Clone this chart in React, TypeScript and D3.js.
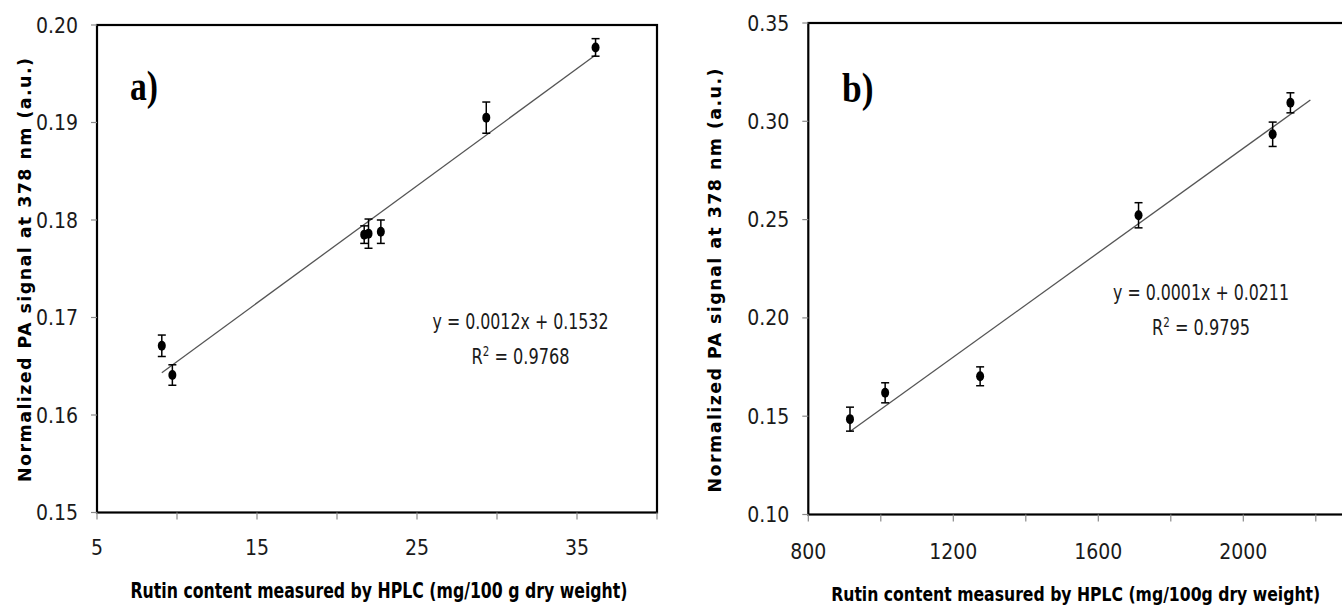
import React, { useEffect, useRef } from 'react';
import * as d3 from 'd3';

// panel a) rutin (mg/100 g) vs PA signal
const rutinA = [9.05, 9.71, 21.7, 21.97, 22.74, 29.33, 36.16];
const signalA = [0.1671, 0.1641, 0.1785, 0.1786, 0.1788, 0.1905, 0.1977];
const errorA = [0.0011, 0.00105, 0.0009, 0.0015, 0.0012, 0.0016, 0.0009];
const xTicksA = [5, 10, 15, 20, 25, 30, 35, 40];
const xLabelsA = [5, 15, 25, 35];
const yTicksA = [0.15, 0.16, 0.17, 0.18, 0.19, 0.2];
const equationA = 'y = 0.0012x + 0.1532';
const r2A = '0.9768';
const xTitleA = 'Rutin content measured by HPLC (mg/100 g dry weight)';

// panel b)
const rutinB = [915, 1012, 1274, 1711, 2081, 2130];
const signalB = [0.1485, 0.1619, 0.1703, 0.2522, 0.2934, 0.3094];
const errorB = [0.0061, 0.0051, 0.0048, 0.0064, 0.0062, 0.0051];
const xTicksB = [800, 1000, 1200, 1400, 1600, 1800, 2000, 2200, 2400];
const xLabelsB = [800, 1200, 1600, 2000];
const yTicksB = [0.1, 0.15, 0.2, 0.25, 0.3, 0.35];
const trendEndB = 2185;
const equationB = 'y = 0.0001x + 0.0211';
const r2B = '0.9795';
const xTitleB = 'Rutin content measured by HPLC (mg/100g dry weight)';

const yTitle = 'Normalized PA signal at 378 nm (a.u.)';

const NARROW = "'Liberation Sans Narrow', 'DejaVu Sans Condensed', 'Arial Narrow', sans-serif";

function fit(xs: number[], ys: number[]) {
  const mx = d3.mean(xs) as number;
  const my = d3.mean(ys) as number;
  let sxy = 0, sxx = 0;
  xs.forEach((x, i) => {
    sxy += (x - mx) * (ys[i] - my);
    sxx += (x - mx) ** 2;
  });
  const slope = sxy / sxx;
  return { slope, intercept: my - slope * mx };
}

function drawPanel(svg: any, o: any) {
  const x = d3.scaleLinear().domain(o.xDomain).range([o.left, o.right]);
  const y = d3.scaleLinear().domain(o.yDomain).range([o.bottom, o.top]);
  const g = svg.append('g');

  // frame
  g.append('rect')
    .attr('x', o.left).attr('y', o.top)
    .attr('width', o.right - o.left).attr('height', o.bottom - o.top)
    .attr('fill', 'none').attr('stroke', '#000').attr('stroke-width', 2.2);

  // y ticks
  g.selectAll('.yt').data(o.yTicks).join('line')
    .attr('x1', o.left - 6).attr('x2', o.left)
    .attr('y1', (d: number) => y(d)).attr('y2', (d: number) => y(d))
    .attr('stroke', '#8a8a8a').attr('stroke-width', 1.2);
  g.selectAll('.yl').data(o.yTicks).join('text')
    .attr('x', o.left - 19).attr('y', (d: number) => y(d)).attr('dy', '0.36em')
    .attr('text-anchor', 'end')
    .attr('font-family', NARROW).attr('font-size', 21).attr('fill', '#1a1a1a')
    .text((d: number) => d3.format('.2f')(d));

  // x ticks
  g.selectAll('.xt').data(o.xTicks).join('line')
    .attr('x1', (d: number) => x(d)).attr('x2', (d: number) => x(d))
    .attr('y1', o.bottom).attr('y2', o.bottom + 7)
    .attr('stroke', '#8a8a8a').attr('stroke-width', 1.2);
  g.selectAll('.xl').data(o.xLabels).join('text')
    .attr('x', (d: number) => x(d)).attr('y', o.bottom + o.xLabelGap)
    .attr('text-anchor', 'middle')
    .attr('font-family', NARROW).attr('font-size', 21).attr('fill', '#1a1a1a')
    .text((d: number) => String(d));

  // trendline
  const { slope, intercept } = fit(o.xs, o.ys);
  const tx = [d3.min(o.xs) as number, o.trendEnd ?? (d3.max(o.xs) as number)];
  g.append('path')
    .datum(tx)
    .attr('d', d3.line<number>().x(d => x(d)).y(d => y(slope * d + intercept)))
    .attr('stroke', '#555').attr('stroke-width', 1.3).attr('fill', 'none');

  // error bars + markers
  const pts = o.xs.map((v: number, i: number) => ({ x: v, y: o.ys[i], e: o.errs[i] }));
  const eb = g.selectAll('.eb').data(pts).join('g')
    .attr('stroke', '#000').attr('stroke-width', 1.5);
  eb.append('line')
    .attr('x1', (d: any) => x(d.x)).attr('x2', (d: any) => x(d.x))
    .attr('y1', (d: any) => y(d.y - d.e)).attr('y2', (d: any) => y(d.y + d.e));
  eb.append('line')
    .attr('x1', (d: any) => x(d.x) - 4).attr('x2', (d: any) => x(d.x) + 4)
    .attr('y1', (d: any) => y(d.y + d.e)).attr('y2', (d: any) => y(d.y + d.e));
  eb.append('line')
    .attr('x1', (d: any) => x(d.x) - 4).attr('x2', (d: any) => x(d.x) + 4)
    .attr('y1', (d: any) => y(d.y - d.e)).attr('y2', (d: any) => y(d.y - d.e));
  g.selectAll('.pt').data(pts).join('ellipse')
    .attr('cx', (d: any) => x(d.x)).attr('cy', (d: any) => y(d.y))
    .attr('rx', 4).attr('ry', 5).attr('fill', '#000');

  // panel letter
  g.append('text')
    .attr('x', o.letterX).attr('y', o.letterY)
    .attr('font-family', "'Liberation Serif', 'Times New Roman', serif")
    .attr('font-weight', 'bold').attr('font-size', 42)
    .attr('textLength', o.letterW).attr('lengthAdjust', 'spacingAndGlyphs')
    .text(o.letter);

  // equation
  g.append('text')
    .attr('x', o.eqX).attr('y', o.eqY)
    .attr('text-anchor', 'middle')
    .attr('font-family', NARROW).attr('font-size', 22).attr('fill', '#1a1a1a')
    .attr('textLength', 176).attr('lengthAdjust', 'spacingAndGlyphs')
    .text(o.equation);
  const r2 = g.append('text')
    .attr('x', o.eqX).attr('y', o.eqY + 35)
    .attr('text-anchor', 'middle')
    .attr('font-family', NARROW).attr('font-size', 22).attr('fill', '#1a1a1a')
    .attr('textLength', 98).attr('lengthAdjust', 'spacingAndGlyphs');
  r2.append('tspan').text('R');
  r2.append('tspan').attr('dy', -8).attr('font-size', 14).text('2');
  r2.append('tspan').attr('dy', 8).text(' = ' + o.r2);

  // axis titles
  g.append('text')
    .attr('x', o.xTitleX).attr('y', o.xTitleY)
    .attr('text-anchor', 'middle')
    .attr('font-family', NARROW).attr('font-weight', 'bold').attr('font-size', o.xTitleSize)
    .attr('textLength', o.xTitleW).attr('lengthAdjust', 'spacingAndGlyphs')
    .text(o.xTitle);
  g.append('text')
    .attr('transform', `translate(${o.yTitleX},${o.yTitleY}) rotate(-90)`)
    .attr('text-anchor', 'middle')
    .attr('font-family', "'DejaVu Sans', Verdana, sans-serif").attr('font-weight', 'bold').attr('font-size', 17.5)
    .attr('textLength', 424).attr('lengthAdjust', 'spacing')
    .text(yTitle);
}

export default function App() {
  const svgRef = useRef<SVGSVGElement>(null);

  useEffect(() => {
    const svg = d3.select(svgRef.current);
    svg.selectAll('*').remove();

    drawPanel(svg, {
      xs: rutinA, ys: signalA, errs: errorA,
      xDomain: [5, 40], yDomain: [0.15, 0.2],
      left: 97, right: 657, top: 25, bottom: 512.5,
      xTicks: xTicksA, xLabels: xLabelsA, yTicks: yTicksA, xLabelGap: 42,
      letter: 'a)', letterX: 130, letterY: 100, letterW: 28,
      equation: equationA, r2: r2A, eqX: 520.5, eqY: 329,
      xTitle: xTitleA, xTitleX: 379, xTitleY: 598, xTitleW: 497, xTitleSize: 22,
      yTitleX: 31, yTitleY: 270,
    });

    drawPanel(svg, {
      xs: rutinB, ys: signalB, errs: errorB, trendEnd: trendEndB,
      xDomain: [800, 2400], yDomain: [0.1, 0.35],
      left: 808.3, right: 1388.3, top: 23, bottom: 514.5,
      xTicks: xTicksB, xLabels: xLabelsB, yTicks: yTicksB, xLabelGap: 44,
      letter: 'b)', letterX: 842, letterY: 102, letterW: 31.5,
      equation: equationB, r2: r2B, eqX: 1201, eqY: 300,
      xTitle: xTitleB, xTitleX: 1075.7, xTitleY: 601, xTitleW: 489, xTitleSize: 19,
      yTitleX: 721, yTitleY: 280.5,
    });
  }, []);

  return (
    <svg
      ref={svgRef}
      width={1342}
      height={614}
      style={{ position: 'absolute', left: 0, top: 0, background: '#fff' }}
    />
  );
}
